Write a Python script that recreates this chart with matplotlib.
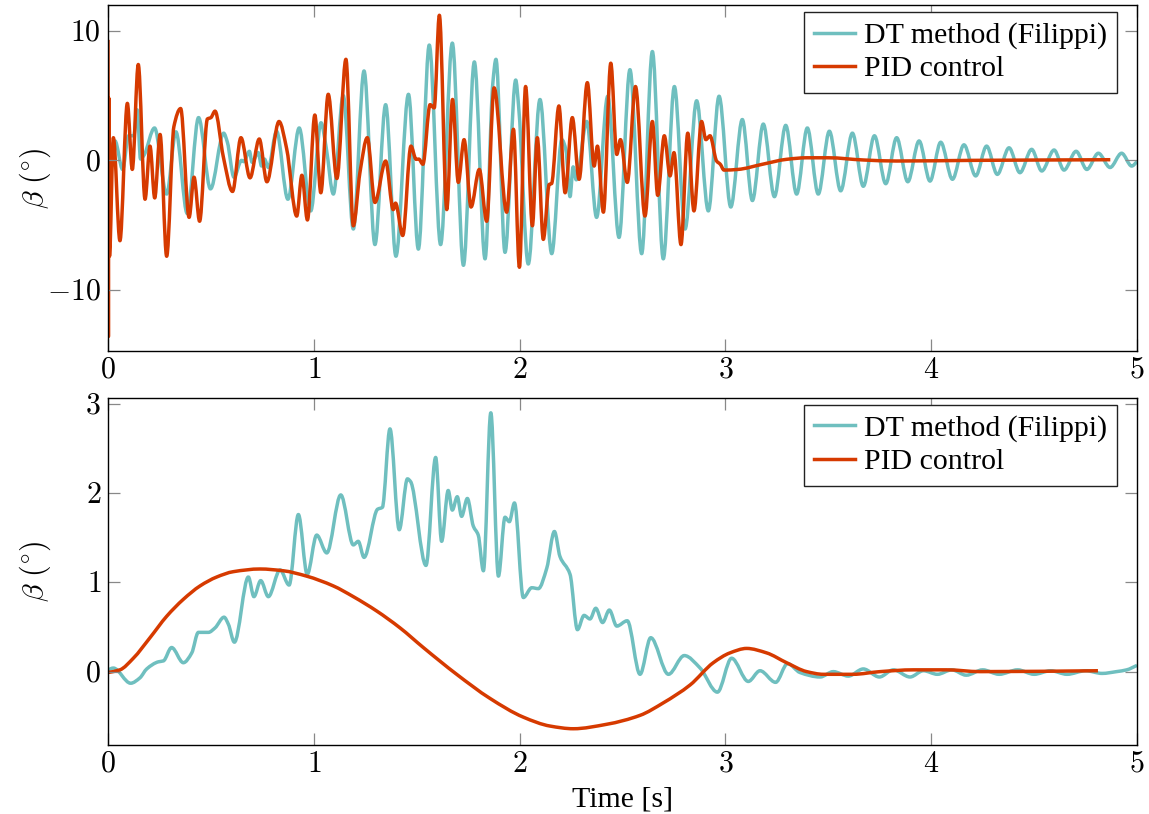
import numpy as np
import matplotlib
matplotlib.use("Agg")
import matplotlib.pyplot as plt
from matplotlib.path import Path
from matplotlib.patches import PathPatch

# beta angle, top panel: (time [s], beta [deg])
dt_top = [
    (0.0, 0.3), (0.034, 1.5), (0.071, -0.7), (0.10, 1.9), (0.125, 1.9), (0.142, 3.9),
    (0.158, 0.1), (0.175, 0.4), (0.226, 2.5), (0.285, -2.6), (0.33, 2.2), (0.385, -4.1),
    (0.44, 3.3), (0.498, -2.2), (0.562, 2.1), (0.58, 1.4), (0.612, -1.3), (0.649, 0.0),
    (0.66, -0.1), (0.687, 0.7), (0.70, -0.15), (0.73, 0.6), (0.746, -0.44), (0.76, 0.1),
    (0.779, -0.55), (0.819, 2.25), (0.874, -3.0), (0.929, 2.5), (0.985, -3.9), (1.035, 2.9),
    (1.06, 1.0), (1.095, -2.6), (1.143, 5.0), (1.192, -5.3), (1.244, 6.9), (1.297, -6.5),
    (1.349, 4.3), (1.399, -7.4), (1.46, 5.1), (1.508, -6.85), (1.561, 8.9), (1.616, -6.5),
    (1.673, 9.05), (1.727, -8.1), (1.78, 7.6), (1.832, -7.6), (1.87, 6.0), (1.885, 7.8),
    (1.929, -7.1), (1.981, 6.2), (1.995, 4.2), (2.042, -8.0), (2.099, 4.7), (2.156, -7.2),
    (2.205, 1.6), (2.225, 0.8), (2.245, -2.8), (2.26, -0.5), (2.275, -1.5), (2.326, 3.0),
    (2.374, -4.4), (2.428, 4.95), (2.483, -5.95), (2.536, 7.0), (2.593, -7.2), (2.645, 8.4),
    (2.698, -7.6), (2.752, 5.7), (2.804, -5.3), (2.86, 4.6), (2.917, -3.9), (2.969, 4.95),
    (3.026, -3.6), (3.082, 3.15), (3.131, -3.1), (3.184, 2.8), (3.238, -2.8), (3.293, 2.7),
    (3.346, -2.6), (3.398, 2.5), (3.451, -2.6), (3.505, 2.25), (3.56, -2.35), (3.617, 2.1),
    (3.67, -2.0), (3.724, 1.9), (3.779, -1.8), (3.832, 1.75), (3.886, -1.65), (3.941, 1.5),
    (3.994, -1.6), (4.046, 1.4), (4.103, -1.46), (4.159, 1.2), (4.216, -1.2), (4.269, 1.1),
    (4.321, -1.08), (4.378, 0.97), (4.431, -0.95), (4.488, 0.85), (4.537, -0.82), (4.597, 0.8),
    (4.645, -0.75), (4.704, 0.7), (4.756, -0.7), (4.812, 0.55), (4.869, -0.55), (4.925, 0.55),
    (4.974, -0.44), (5.0, -0.1),
]

pid_top = [
    (0.0, 9.3), (0.002, -13.6), (0.004, 4.8), (0.007, -7.4), (0.026, 1.75), (0.058, -6.2),
    (0.094, 4.4), (0.118, -0.7), (0.147, 7.4), (0.18, -3.0), (0.204, 1.1), (0.227, -2.9),
    (0.253, 2.0), (0.285, -7.4), (0.32, 2.6), (0.353, 4.0), (0.394, -4.4), (0.418, -1.3),
    (0.445, -4.7), (0.483, 3.2), (0.50, 3.3), (0.52, 3.8), (0.56, 0.3), (0.605, -2.4),
    (0.646, 1.75), (0.69, -1.35), (0.735, 1.65), (0.772, -1.65), (0.831, 3.0), (0.868, 0.9),
    (0.917, -4.3), (0.942, -1.15), (0.969, -4.6), (1.005, 3.5), (1.034, -2.5), (1.07, 5.1),
    (1.112, -1.4), (1.156, 7.8), (1.192, -5.05), (1.224, -0.95), (1.26, 1.75), (1.297, -3.25),
    (1.349, -0.05), (1.386, -3.8), (1.397, -3.3), (1.432, -5.8), (1.472, 1.1), (1.497, 0.08),
    (1.51, 0.1), (1.53, -0.3), (1.565, 4.3), (1.585, 4.05), (1.61, 11.2), (1.646, -3.8),
    (1.674, 4.7), (1.702, -1.7), (1.73, 1.6), (1.764, -3.6), (1.804, -0.7), (1.84, -4.7),
    (1.876, 5.6), (1.937, -4.0), (1.97, 2.4), (1.999, -8.25), (2.029, 5.7), (2.062, -5.05),
    (2.086, 1.75), (2.115, -6.1), (2.144, -1.85), (2.155, -1.8), (2.191, 4.2), (2.221, -2.5),
    (2.256, 3.3), (2.289, -1.46), (2.329, 6.0), (2.362, -0.44), (2.378, 1.1), (2.407, -4.0),
    (2.443, 7.5), (2.472, 0.46), (2.49, 1.6), (2.523, -1.7), (2.563, 5.7), (2.609, -4.3),
    (2.645, 3.0), (2.671, -2.7), (2.703, 1.9), (2.731, -1.2), (2.75, 0.6), (2.784, -6.5),
    (2.817, 2.1), (2.847, -3.9), (2.884, 3.0), (2.905, 1.6), (2.925, 1.9), (2.957, -0.05),
    (2.975, -0.3), (2.993, -0.75), (3.06, -0.7), (3.18, -0.3), (3.297, 0.08), (3.395, 0.2),
    (3.5, 0.2), (3.67, 0.03), (3.83, -0.05), (4.2, 0.0), (4.87, 0.05),
]

# bottom panel
dt_bot = [
    (0.0, 0.02), (0.026, 0.04), (0.11, -0.13), (0.155, -0.07), (0.188, 0.03), (0.245, 0.11),
    (0.269, 0.12), (0.309, 0.27), (0.366, 0.10), (0.407, 0.21), (0.439, 0.44), (0.488, 0.44),
    (0.52, 0.49), (0.564, 0.61), (0.585, 0.53), (0.614, 0.33), (0.682, 1.06), (0.709, 0.84),
    (0.742, 1.02), (0.779, 0.84), (0.836, 1.14), (0.88, 0.97), (0.925, 1.76), (0.968, 1.09),
    (1.014, 1.53), (1.063, 1.33), (1.131, 1.98), (1.192, 1.42), (1.216, 1.46), (1.244, 1.28),
    (1.31, 1.82), (1.333, 1.84), (1.37, 2.72), (1.415, 1.59), (1.455, 2.16), (1.47, 2.13),
    (1.545, 1.19), (1.592, 2.40), (1.621, 1.46), (1.653, 2.03), (1.673, 1.81), (1.697, 1.96),
    (1.718, 1.74), (1.746, 1.94), (1.775, 1.63), (1.799, 1.53), (1.824, 1.13), (1.86, 2.90),
    (1.897, 1.07), (1.929, 1.73), (1.95, 1.68), (1.975, 1.89), (2.018, 0.83), (2.059, 0.94),
    (2.091, 0.93), (2.132, 1.16), (2.169, 1.57), (2.196, 1.29), (2.245, 1.09), (2.281, 0.47),
    (2.313, 0.63), (2.342, 0.59), (2.37, 0.71), (2.403, 0.55), (2.436, 0.69), (2.472, 0.51),
    (2.523, 0.57), (2.585, -0.03), (2.637, 0.38), (2.723, -0.03), (2.8, 0.18), (2.877, 0.04),
    (2.961, -0.23), (3.03, 0.15), (3.111, -0.11), (3.168, 0.01), (3.244, -0.12), (3.302, 0.09),
    (3.362, -0.01), (3.46, -0.06), (3.524, 0.0), (3.597, -0.05), (3.67, 0.03), (3.748, -0.06),
    (3.816, 0.02), (3.897, -0.06), (3.962, 0.01), (4.03, -0.03), (4.1, 0.02), (4.17, -0.04),
    (4.25, 0.02), (4.33, -0.03), (4.42, 0.02), (4.5, -0.03), (4.58, 0.01), (4.66, -0.03),
    (4.75, 0.01), (4.83, -0.02), (4.9, 0.0), (4.95, 0.02), (5.0, 0.07),
]

pid_bot = [
    (0.0, -0.01), (0.058, 0.02), (0.123, 0.15), (0.204, 0.38), (0.285, 0.62), (0.366, 0.81),
    (0.447, 0.96), (0.528, 1.06), (0.609, 1.12), (0.739, 1.15), (0.852, 1.13), (0.965, 1.07),
    (1.095, 0.96), (1.192, 0.84), (1.305, 0.68), (1.419, 0.49), (1.532, 0.27), (1.694, -0.03),
    (1.856, -0.30), (2.018, -0.51), (2.148, -0.61), (2.261, -0.64), (2.423, -0.59),
    (2.585, -0.49), (2.698, -0.35), (2.828, -0.15), (2.941, 0.10), (3.022, 0.21),
    (3.103, 0.26), (3.2, 0.21), (3.297, 0.10), (3.395, 0.0), (3.476, -0.03), (3.62, -0.03),
    (3.751, 0.0), (3.913, 0.02), (4.075, 0.02), (4.237, 0.0), (4.81, 0.01),
]

labels = ["DT method (Filippi)", "PID control"]
colors = ["#6fbfbf", "#d63a00"]
FS = 21.5
LW = 2.5

plt.rcParams["font.family"] = ["Liberation Serif", "DejaVu Serif"]
plt.rcParams["mathtext.fontset"] = "cm"
plt.rcParams["font.size"] = FS


def smooth_path(pts):
    # cubic Hermite through the read points (monotone tangents), as a bezier path
    x = np.array([p[0] for p in pts])
    y = np.array([p[1] for p in pts])
    h = np.diff(x)
    d = np.diff(y) / h
    m = np.zeros(len(x))
    m[0], m[-1] = d[0], d[-1]
    for i in range(1, len(x) - 1):
        if d[i - 1] * d[i] > 0:
            h0, h1 = h[i - 1], h[i]
            m[i] = 3 * (h0 + h1) / ((2 * h1 + h0) / d[i - 1] + (h1 + 2 * h0) / d[i])
    verts = [(x[0], y[0])]
    codes = [Path.MOVETO]
    for i in range(len(x) - 1):
        verts += [(x[i] + h[i] / 3, y[i] + m[i] * h[i] / 3),
                  (x[i + 1] - h[i] / 3, y[i + 1] - m[i + 1] * h[i] / 3),
                  (x[i + 1], y[i + 1])]
        codes += [Path.CURVE4] * 3
    return Path(verts, codes)


fig = plt.figure(figsize=(11.49, 8.14), dpi=100)
ax1 = fig.add_axes([0.094, 0.569, 0.8956, 0.425])
ax2 = fig.add_axes([0.094, 0.085, 0.8956, 0.4265])

for ax, dt, pid in [(ax1, dt_top, pid_top), (ax2, dt_bot, pid_bot)]:
    for pts, c, lab in [(dt, colors[0], labels[0]), (pid, colors[1], labels[1])]:
        ax.add_patch(PathPatch(smooth_path(pts), fill=False, edgecolor=c, lw=LW,
                               joinstyle="round", capstyle="butt"))
        ax.plot([], [], color=c, lw=LW, label=lab)

ax1.set_ylim(-14.7, 12.0)
ax1.set_yticks([-10, 0, 10])
ax1.set_yticklabels([r"$-10$", r"$0$", r"$10$"])
ax2.set_ylim(-0.82, 3.07)
ax2.set_yticks([0, 1, 2, 3])
ax2.set_yticklabels([r"$%d$" % v for v in range(4)])
ax2.set_xlabel("Time [s]", fontsize=FS, labelpad=6)

for ax in (ax1, ax2):
    ax.set_xlim(0, 5)
    ax.set_xticks([0, 1, 2, 3, 4, 5])
    ax.set_xticklabels([r"$%d$" % v for v in range(6)])
    ax.tick_params(direction="in", top=True, right=True, length=8.5, width=0.9,
                   color="#888888", labelsize=FS, pad=5)
    for s in ax.spines.values():
        s.set_linewidth(1.0)
    ax.set_ylabel(r"$\beta\ (^{\circ})$", fontsize=FS)
    ax.yaxis.set_label_coords(-0.053, 0.5)
    leg = ax.legend(loc="upper right", bbox_to_anchor=(0.9806, 0.98), borderaxespad=0,
                    fontsize=FS, fancybox=False, framealpha=1, edgecolor="#222222",
                    handlelength=1.35, handletextpad=0.3, borderpad=0.35,
                    labelspacing=0.2)
    leg.get_frame().set_linewidth(1.0)

fig.savefig("out.png", dpi=100)
